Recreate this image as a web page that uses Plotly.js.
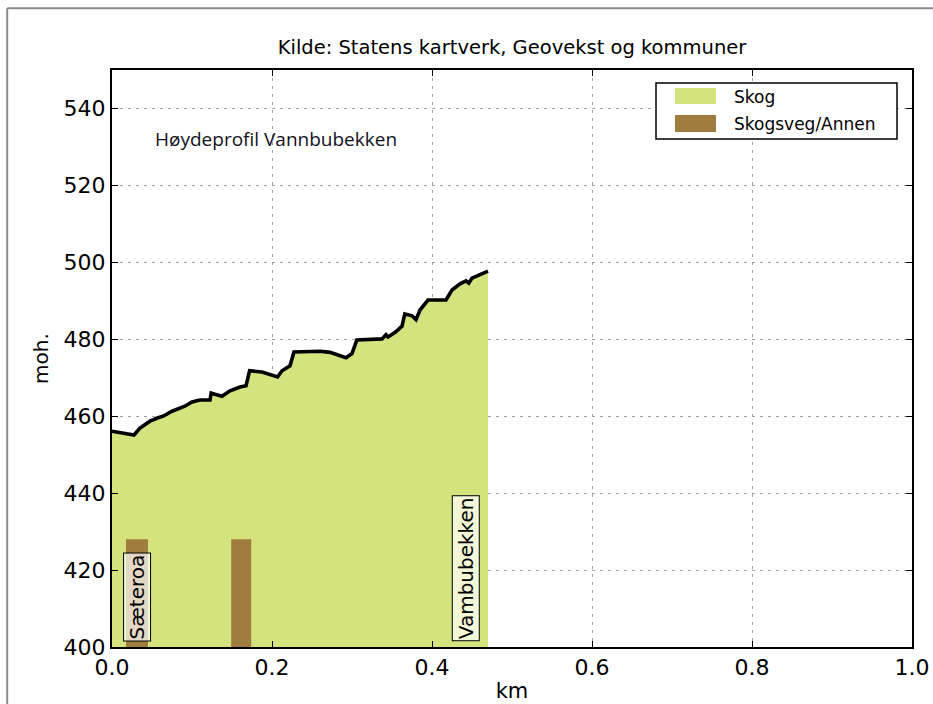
<!DOCTYPE html>
<html>
<head>
<meta charset="utf-8">
<script src="https://cdn.plot.ly/plotly-3.0.1.min.js"></script>
<style>
  html, body { margin: 0; padding: 0; background: #ffffff; }
  #chart { width: 933px; height: 704px; }
</style>
</head>
<body>
<div id="chart"></div>
<script>
// ---- Data ----
const distKm = [0, 0.0125, 0.0225, 0.0275, 0.035, 0.0475, 0.0575, 0.064, 0.075, 0.091,
  0.1, 0.11, 0.1225, 0.124, 0.1275, 0.1375, 0.1475, 0.16, 0.1675, 0.172,
  0.1875, 0.2, 0.207, 0.2125, 0.2225, 0.2275, 0.26, 0.2725, 0.2925, 0.3,
  0.306, 0.3375, 0.3425, 0.345, 0.354, 0.3625, 0.366, 0.375, 0.38, 0.385,
  0.395, 0.4175, 0.425, 0.435, 0.4425, 0.446, 0.45, 0.46, 0.47];
const elevation = [456.1, 455.6, 455.3, 455.1, 456.9, 458.7, 459.6, 460.0, 461.3, 462.6,
  463.7, 464.2, 464.2, 466.0, 465.8, 465.2, 466.6, 467.6, 467.9, 471.8,
  471.5, 470.8, 470.2, 471.8, 473.1, 476.7, 476.9, 476.6, 475.2, 476.3,
  479.8, 480.1, 481.2, 480.6, 481.8, 483.4, 486.6, 486.1, 485.1, 487.6,
  490.2, 490.2, 492.8, 494.4, 495.2, 494.6, 495.9, 496.8, 497.7];

// Skogsveg/Annen segments (start km, end km, top height)
const roadStart = [0.0175, 0.149];
const roadEnd   = [0.045, 0.174];
const roadTop   = [428, 428];

// Place labels
const placeNames = ["Sæteroa", "Vambubekken"];
const placeKm    = [0.031, 0.4425];

const xRange = [0, 1];
const yRange = [400, 550];
const xTicks = [0, 0.2, 0.4, 0.6, 0.8, 1.0];
const yTicks = [400, 420, 440, 460, 480, 500, 520, 540];

const legendNames = ["Skog", "Skogsveg/Annen"];
const colSkog = "#d4e37e";
const colVeg = "#a07d3e";

// ---- Build road polygons ----
const roadX = [], roadY = [];
for (let i = 0; i < roadStart.length; i++) {
  roadX.push(roadStart[i], roadStart[i], roadEnd[i], roadEnd[i], roadStart[i], null);
  roadY.push(yRange[0], roadTop[i], roadTop[i], yRange[0], yRange[0], null);
}

const traces = [
  {
    type: "scatter", mode: "lines", name: legendNames[0],
    x: distKm, y: elevation,
    fill: "tozeroy", fillcolor: colSkog,
    line: { color: "#000000", width: 3.6 },
    showlegend: false, hoverinfo: "x+y"
  },
  {
    type: "scatter", mode: "lines", name: legendNames[1],
    x: roadX, y: roadY, fill: "toself", fillcolor: colVeg,
    line: { width: 0, color: colVeg }, showlegend: false
  }
];

const F = "DejaVu Sans, Verdana, sans-serif";

const annotations = placeNames.map((n, i) => ({
  x: placeKm[i], y: 401.5, xref: "x", yref: "y",
  text: n, showarrow: false, textangle: -90,
  xanchor: "center", yanchor: "bottom",
  font: { family: F, size: 20, color: "#000" },
  bgcolor: "rgba(255,255,255,0.7)", bordercolor: "#000", borderwidth: 1, borderpad: 1
}));

annotations.push({
  x: 0.051, y: 532, xref: "x", yref: "y", text: "Høydeprofil Vannbubekken",
  showarrow: false, xanchor: "left", yanchor: "middle",
  font: { family: "Open Sans, Lato, sans-serif", size: 19, color: "#111122" }
});

// legend texts (paper coords)
const legendTextY = [0.9532, 0.9064];
legendNames.forEach((n, i) => annotations.push({
  x: 0.775, y: legendTextY[i], xref: "paper", yref: "paper", text: n,
  showarrow: false, xanchor: "left", yanchor: "middle",
  font: { family: F, size: 17, color: "#000" }
}));

const shapes = [
  // outer frame
  { type: "line", xref: "paper", yref: "paper", x0: -0.131, x1: 1.05, y0: 1.107, y1: 1.107,
    line: { color: "#8a8a8a", width: 2 } },
  { type: "line", xref: "paper", yref: "paper", x0: -0.131, x1: -0.131, y0: 1.107, y1: -0.12,
    line: { color: "#8a8a8a", width: 2 } },
  // legend box
  { type: "rect", xref: "paper", yref: "paper", x0: 0.68, x1: 0.98125, y0: 0.8804, y1: 0.9775,
    fillcolor: "#ffffff", line: { color: "#000", width: 1.5 }, layer: "above" },
  { type: "rect", xref: "paper", yref: "paper", x0: 0.70375, x1: 0.755, y0: 0.9411, y1: 0.9688,
    fillcolor: colSkog, line: { width: 0 }, layer: "above" },
  { type: "rect", xref: "paper", yref: "paper", x0: 0.70375, x1: 0.755, y0: 0.8925, y1: 0.922,
    fillcolor: colVeg, line: { width: 0 }, layer: "above" }
];

const gridStyle = { showgrid: true, gridcolor: "#a0a0a0", gridwidth: 1, griddash: "3px,5px" };

const layout = {
  width: 933, height: 704,
  margin: { l: 112, r: 21, t: 70, b: 57 },
  paper_bgcolor: "#ffffff", plot_bgcolor: "#ffffff",
  showlegend: false,
  title: {
    text: "Kilde: Statens kartverk, Geovekst og kommuner",
    font: { family: F, size: 19.5, color: "#000" },
    x: 0.5, xref: "paper", y: 1 - 47 / 704, yref: "container", yanchor: "middle"
  },
  xaxis: Object.assign({
    range: xRange, tickvals: xTicks, tickformat: ".1f",
    ticks: "inside", ticklen: 6, tickwidth: 1, tickcolor: "#000",
    showline: true, linecolor: "#000", linewidth: 2, mirror: "ticks",
    zeroline: false,
    tickfont: { family: F, size: 22, color: "#000" },
    title: { text: "km", font: { family: F, size: 21, color: "#000" }, standoff: 4 }
  }, gridStyle),
  yaxis: Object.assign({
    range: yRange, tickvals: yTicks,
    ticks: "inside", ticklen: 6, tickwidth: 1, tickcolor: "#000",
    showline: true, linecolor: "#000", linewidth: 2, mirror: "ticks",
    zeroline: false,
    tickfont: { family: F, size: 22, color: "#000" },
    title: { text: "moh.", font: { family: F, size: 20, color: "#000" }, standoff: 10 }
  }, gridStyle),
  annotations: annotations,
  shapes: shapes
};

Plotly.newPlot("chart", traces, layout, { displayModeBar: false, staticPlot: true });
</script>
</body>
</html>
